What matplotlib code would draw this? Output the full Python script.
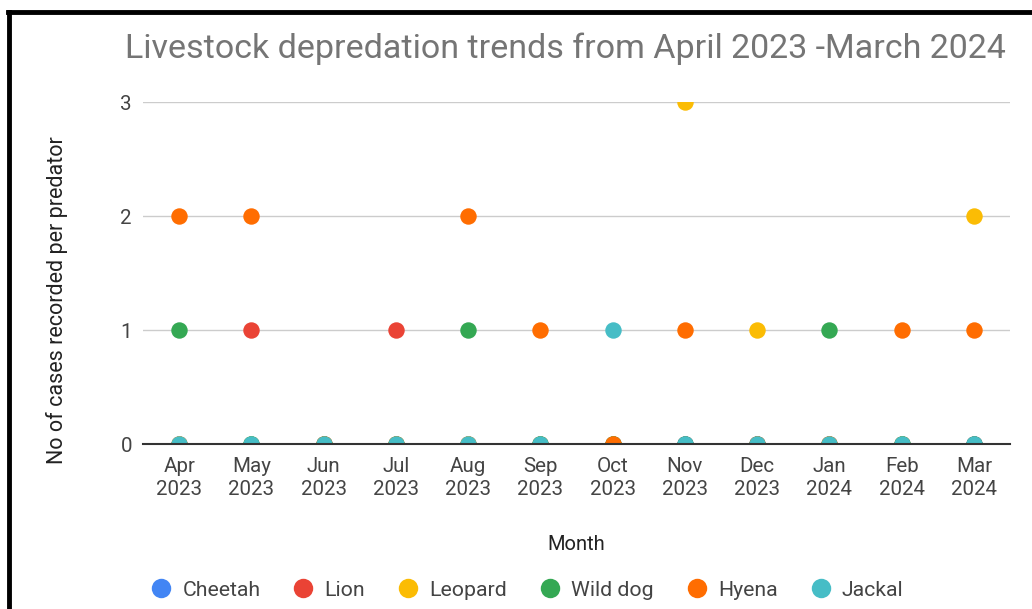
import matplotlib
matplotlib.use("Agg")
import matplotlib.pyplot as plt
from matplotlib.lines import Line2D

plt.rcParams['font.family'] = ['Roboto', 'DejaVu Sans']

months = ["Apr\n2023", "May\n2023", "Jun\n2023", "Jul\n2023", "Aug\n2023", "Sep\n2023",
          "Oct\n2023", "Nov\n2023", "Dec\n2023", "Jan\n2024", "Feb\n2024", "Mar\n2024"]

cheetah  = [0, 0, 0, 0, 0, 0, 0, 0, 0, 0, 0, 0]
lion     = [0, 1, 0, 1, 0, 0, 0, 0, 0, 0, 0, 0]
leopard  = [0, 0, 0, 0, 0, 0, 0, 3, 1, 0, 0, 2]
wild_dog = [1, 0, 0, 0, 1, 0, 0, 0, 0, 1, 0, 0]
hyena    = [2, 2, 0, 0, 2, 1, 0, 1, 0, 0, 1, 1]
jackal   = [0, 0, 0, 0, 0, 0, 1, 0, 0, 0, 0, 0]

series = [("Cheetah", cheetah, "#4285F4"),
          ("Lion", lion, "#EA4335"),
          ("Leopard", leopard, "#FBBC04"),
          ("Wild dog", wild_dog, "#34A853"),
          ("Hyena", hyena, "#FF6D01"),
          ("Jackal", jackal, "#46BDC6")]

W, H = 1032, 609
fig = plt.figure(figsize=(W / 100, H / 100), dpi=100)
ax = fig.add_axes([143 / W, (H - 444) / H, (1010 - 143) / W, (444 - 102) / H])

x = list(range(len(months)))
for name, vals, col in series:
    ax.scatter(x, vals, s=140, color=col, label=name, zorder=3, linewidths=0)

ax.set_xlim(-0.5, 11.5)
ax.set_ylim(0, 3)
ax.set_yticks([0, 1, 2, 3])
ax.set_xticks(x)
ax.set_xticklabels(months, fontsize=14.8, color="#444444", linespacing=1.3)
ax.tick_params(axis="y", labelsize=14.8, labelcolor="#444444", length=0, pad=8)
ax.tick_params(axis="x", length=0, pad=9)
ax.grid(axis="y", color="#cccccc", linewidth=1)
ax.set_axisbelow(True)
for side in ["top", "right", "left"]:
    ax.spines[side].set_visible(False)
ax.spines["bottom"].set_color("#333333")
ax.spines["bottom"].set_linewidth(1.5)
ax.spines["bottom"].set_zorder(5)

ax.set_xlabel("Month", fontsize=14.5, color="#222222")
ax.xaxis.set_label_coords(0.5, -(545 - 444) / (444 - 102))
ax.xaxis.label.set_va("center")
ax.set_ylabel("No of cases recorded per predator", fontsize=15.5, color="#222222")
ax.yaxis.set_label_coords(-(143 - 57) / (1010 - 143), (444 - 300) / (444 - 102))
ax.yaxis.label.set_va("center")

fig.text(565 / W, 1 - 49 / H, "Livestock depredation trends from April 2023 -March 2024",
         ha="center", va="center", fontsize=24.5, color="#757575")

handles = [Line2D([], [], marker="o", linestyle="", markersize=14, color=c, markeredgewidth=0)
           for _, _, c in series]
fig.legend(handles, [s[0] for s in series], loc="center", bbox_to_anchor=(527 / W, 1 - 590 / H),
           ncol=6, frameon=False, fontsize=15.3, handletextpad=0.5, columnspacing=1.52,
           labelcolor="#444444", handlelength=1.0)

# black frame of the screenshot
fig.add_artist(Line2D([9 / W, 9 / W], [0, 1 - 12 / H], color="black", linewidth=3.5,
                      transform=fig.transFigure))
fig.add_artist(Line2D([7.5 / W, 1], [1 - 12 / H, 1 - 12 / H], color="black", linewidth=3.5,
                      transform=fig.transFigure))

fig.savefig("out.png", dpi=100)
